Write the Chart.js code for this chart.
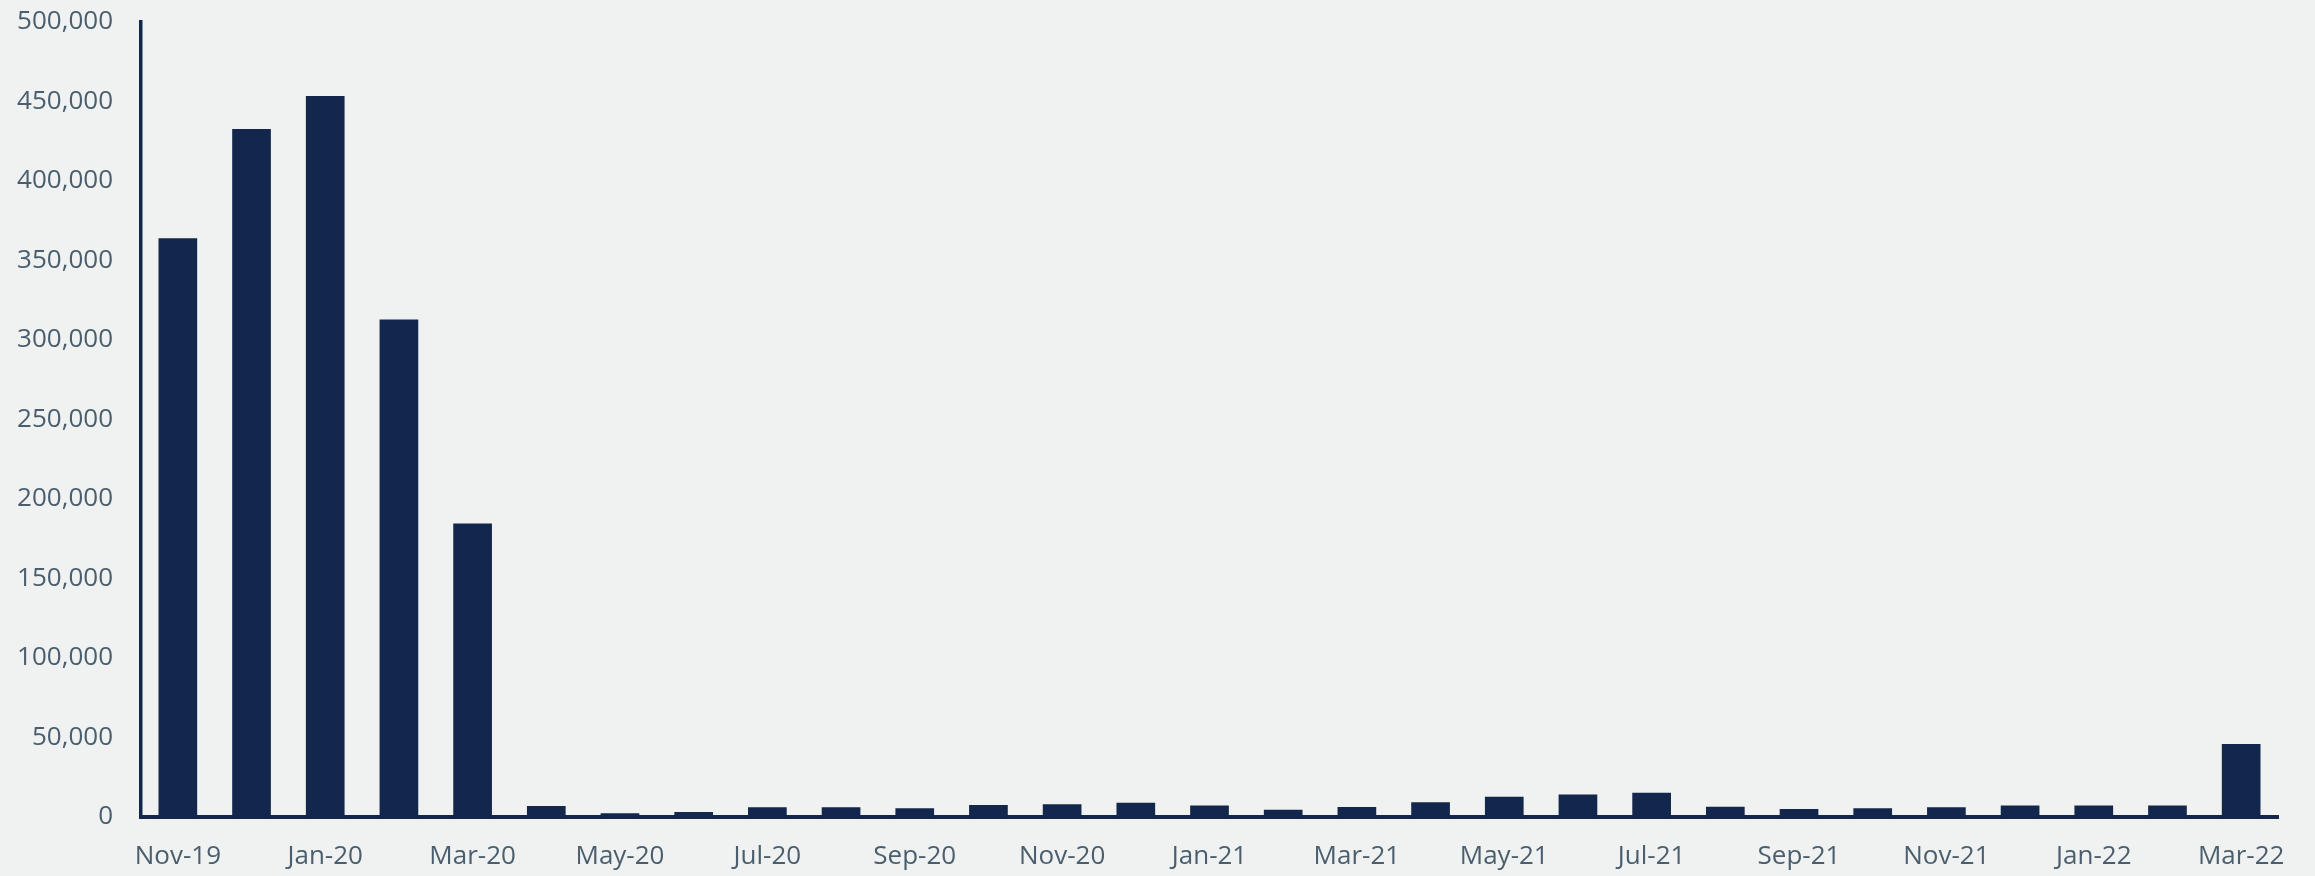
<!DOCTYPE html>
<html>
<head>
<meta charset="utf-8">
<script src="https://cdn.jsdelivr.net/npm/chart.js@4/dist/chart.umd.min.js"></script>
<style>
    html, body { margin: 0; padding: 0; background: #f0f2f1; }
    #wrap { width: 2315px; height: 876px; }
</style>
</head>
<body>
<div id="wrap"><canvas id="chart" width="2315" height="876"></canvas></div>
<script>
// месяцы и значения
const months = [
    'Nov-19', 'Dec-19', 'Jan-20', 'Feb-20', 'Mar-20', 'Apr-20', 'May-20', 'Jun-20',
    'Jul-20', 'Aug-20', 'Sep-20', 'Oct-20', 'Nov-20', 'Dec-20', 'Jan-21', 'Feb-21',
    'Mar-21', 'Apr-21', 'May-21', 'Jun-21', 'Jul-21', 'Aug-21', 'Sep-21', 'Oct-21',
    'Nov-21', 'Dec-21', 'Jan-22', 'Feb-22', 'Mar-22',
];
const values = [
    364000, 432700, 453500, 312900, 184600, 6900, 2300, 3100,
    6100, 6100, 5500, 7500, 8000, 9000, 7300, 4600,
    6300, 9200, 12800, 14100, 15300, 6500, 5000, 5500,
    6100, 7300, 7300, 7300, 45900,
];
const yTicks = [0, 50000, 100000, 150000, 200000, 250000, 300000, 350000, 400000, 450000, 500000];

const navy = '#13264b';
const labelColor = '#4a5e6e';
const font = { family: "'Open Sans', sans-serif", size: 26 };

new Chart(document.getElementById('chart'), {
    type: 'bar',
    data: {
        labels: months,
        datasets: [{
            data: values,
            backgroundColor: navy,
            borderWidth: 0,
            barPercentage: 0.525,
            categoryPercentage: 1,
        }],
    },
    options: {
        responsive: false,
        animation: false,
        layout: { padding: { left: 15, right: 37, top: 0, bottom: 0 } },
        plugins: { legend: { display: false }, tooltip: { enabled: false } },
        scales: {
            x: {
                grid: { display: false, drawTicks: false },
                border: { display: true, color: navy, width: 4 },
                ticks: {
                    color: labelColor,
                    font,
                    padding: 24,
                    autoSkip: false,
                    maxRotation: 0,
                    callback: (v, i) => (i % 2 === 0 ? months[i] : ''),
                },
                // фиксируем размеры оси, чтобы область графика совпала
                afterFit: (s) => {
                    s.height = 59;
                    s.paddingLeft = 0;
                    s.paddingRight = 0;
                },
            },
            y: {
                min: 0,
                max: 500000,
                afterBuildTicks: (axis) => {
                    axis.ticks = yTicks.map((value) => ({ value }));
                },
                grid: { display: false, drawTicks: false },
                border: { display: true, color: navy, width: 3.5 },
                ticks: {
                    color: labelColor,
                    font,
                    padding: 28,
                    callback: (v) => v.toLocaleString('en-US'),
                },
                afterFit: (s) => {
                    s.width = 126;
                    s.paddingTop = 22;
                    s.paddingBottom = 0;
                },
            },
        },
    },
});
</script>
</body>
</html>
